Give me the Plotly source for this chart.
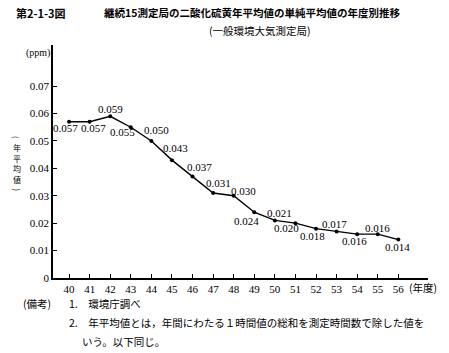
import plotly.graph_objects as go

years = [40, 41, 42, 43, 44, 45, 46, 47, 48, 49, 50, 51, 52, 53, 54, 55, 56]
values = [0.057, 0.057, 0.059, 0.055, 0.050, 0.043, 0.037, 0.031, 0.030,
          0.024, 0.021, 0.020, 0.018, 0.017, 0.016, 0.016, 0.014]
# label offsets in pixels (dx right, dy down) relative to each point
label_dx = [-4, 4, 0, -8, 5, 4, 7, 5, 10, -8, 5, -9, -4, -2, -3, 0, -1]
label_dy = [6, 6, -7, 5, -11, -12, -10, -10, -5, 9, -7, 5, 7, -7, 7, -6, 7]
y_tickvals = [0, 0.01, 0.02, 0.03, 0.04, 0.05, 0.06, 0.07]
y_ticktext = ["0", "0.01", "0.02", "0.03", "0.04", "0.05", "0.06", "0.07"]

W, H = 449, 353
L, R, T, B = 53, 428, 45, 278

SERIF = "Liberation Serif"
JP = "Noto Sans CJK JP"


def px(x):
    return (x - L) / (R - L)


def py(y):
    return (B - y) / (B - T)


fig = go.Figure()
fig.add_trace(go.Scatter(
    x=years, y=values, mode="lines+markers",
    line=dict(color="black", width=1.4),
    marker=dict(color="black", size=4),
    cliponaxis=False,
    hoverinfo="skip",
))

ann = []
for xv, yv, dx, dy in zip(years, values, label_dx, label_dy):
    ann.append(dict(text=f"{yv:.3f}", x=xv, y=yv, xref="x", yref="y",
                    xshift=dx, yshift=-dy, showarrow=False,
                    xanchor="center", yanchor="middle",
                    font=dict(family=SERIF, size=11, color="black")))


def add(text, x, y, xanchor="left", size=11, family=JP, yanchor="middle", angle=0):
    ann.append(dict(text=text, x=px(x), y=py(y), xref="paper", yref="paper",
                    xanchor=xanchor, yanchor=yanchor, showarrow=False,
                    textangle=angle, borderpad=0,
                    font=dict(family=family, size=size, color="black")))


add("<b>第2-1-3図</b>", 15, 13, size=11)
add("<b>継続15測定局の二酸化硫黄年平均値の単純平均値の年度別推移</b>", 103, 13, size=10.5)
add("(一般環境大気測定局)", 260, 30, xanchor="center", size=10.5)
add("(ppm)", 51, 53, xanchor="right", size=10, family=SERIF)
add("(年度)", 408, 287, size=10.5)
# vertical y-axis title, one character per line
add("(", 17, 137, xanchor="center", size=8, angle=90)
for ch, yy in zip("年平均値", [147.5, 158, 168.5, 179]):
    add(ch, 17, yy, xanchor="center", size=8)
add(")", 17, 189.5, xanchor="center", size=8, angle=90)
add("(備考)", 22, 303, size=10.5)
add("1.　環境庁調べ", 68, 303, size=10.5)
add("2.　年平均値とは，年間にわたる１時間値の総和を測定時間数で除した値を", 68, 322, size=10.5)
add("いう。以下同じ。", 81, 341, size=10.5)

fig.update_layout(
    width=W, height=H,
    margin=dict(l=L, r=W - R, t=T, b=H - B, pad=0),
    paper_bgcolor="white", plot_bgcolor="white",
    showlegend=False,
    annotations=ann,
    xaxis=dict(
        range=[39.22, 57.44], tickvals=years, ticktext=[str(y) for y in years],
        ticks="inside", ticklen=4, tickcolor="black", tickwidth=1,
        showline=True, linecolor="black", linewidth=1.5,
        showgrid=False, zeroline=False,
        tickfont=dict(family=SERIF, size=11, color="black"),
    ),
    yaxis=dict(
        range=[0, 0.085], tickvals=y_tickvals, ticktext=y_ticktext,
        ticks="inside", ticklen=4, tickcolor="black", tickwidth=1,
        showline=True, linecolor="black", linewidth=1.5,
        showgrid=False, zeroline=False,
        tickfont=dict(family=SERIF, size=11, color="black"),
    ),
)

fig.write_html("out.html")
